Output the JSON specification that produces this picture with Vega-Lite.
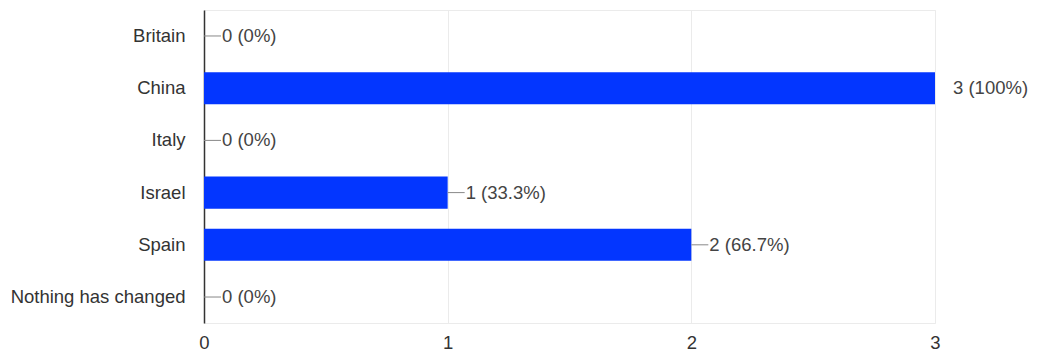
{
  "$schema": "https://vega.github.io/schema/vega-lite/v6.json",
  "autosize": {"type": "none"},
  "padding": {"left": 204, "top": 10, "right": 104, "bottom": 29},
  "width": 731,
  "height": 313,
  "background": "white",
  "config": {
    "font": "Liberation Sans",
    "view": {"stroke": "#ebebeb"}
  },
  "data": {
    "values": [
      {"country": "Britain", "count": 0, "label": "0 (0%)"},
      {"country": "China", "count": 3, "label": "3 (100%)"},
      {"country": "Italy", "count": 0, "label": "0 (0%)"},
      {"country": "Israel", "count": 1, "label": "1 (33.3%)"},
      {"country": "Spain", "count": 2, "label": "2 (66.7%)"},
      {"country": "Nothing has changed", "count": 0, "label": "0 (0%)"}
    ]
  },
  "encoding": {
    "y": {
      "field": "country",
      "type": "nominal",
      "sort": null,
      "scale": {"paddingInner": 0.385, "paddingOuter": 0.19},
      "axis": {
        "title": null,
        "ticks": false,
        "domainColor": "#333333",
        "domainWidth": 1.5,
        "labelFontSize": 18.5,
        "labelColor": "#333333",
        "labelPadding": 19,
        "grid": false
      }
    },
    "x": {
      "field": "count",
      "type": "quantitative",
      "scale": {"domain": [0, 3], "nice": false},
      "axis": {
        "title": null,
        "values": [0, 0.5, 1, 1.5, 2, 2.5, 3],
        "format": "d",
        "labelExpr": "datum.value % 1 == 0 ? datum.label : ''",
        "domain": false,
        "ticks": false,
        "grid": true,
        "gridColor": "#ebebeb",
        "labelFontSize": 18.5,
        "labelColor": "#333333",
        "labelPadding": 10,
        "labelFlush": false
      }
    }
  },
  "layer": [
    {
      "mark": {"type": "bar", "color": "#0336ff"}
    },
    {
      "transform": [{"filter": "datum.count < 3"}],
      "mark": {"type": "rule", "color": "#888888", "strokeWidth": 1, "x2Offset": 17},
      "encoding": {"x2": {"field": "count"}}
    },
    {
      "mark": {"type": "text", "align": "left", "baseline": "middle", "dx": 18, "fontSize": 18.5, "color": "#444444"},
      "encoding": {"text": {"field": "label"}}
    }
  ]
}
